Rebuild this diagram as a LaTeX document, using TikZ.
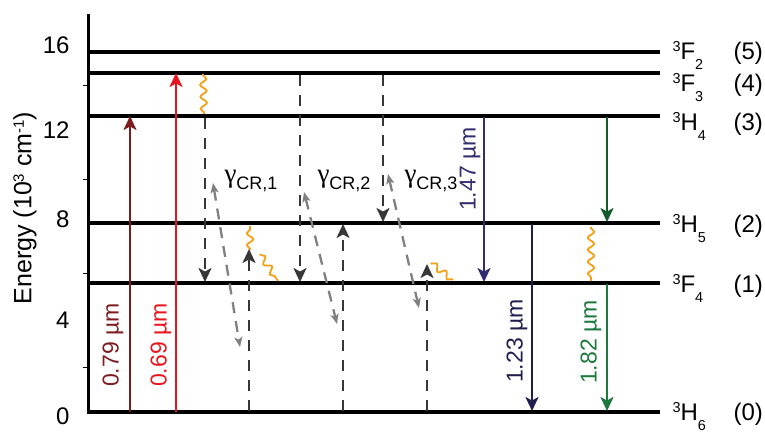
\documentclass[tikz,border=0pt]{standalone}
\usepackage{fontspec}
\usepackage{graphicx}
\setmainfont{Liberation Sans}
\newfontfamily\gfont{Liberation Serif}
\usetikzlibrary{arrows.meta,decorations.pathmorphing}
\definecolor{cDarkRed}{RGB}{125,28,30}
\definecolor{cRed}{RGB}{232,20,30}
\definecolor{cNavy}{RGB}{50,45,110}
\definecolor{cNavyD}{RGB}{32,30,78}
\definecolor{cGreenD}{RGB}{20,90,45}
\definecolor{cGreen}{RGB}{28,120,60}
\definecolor{cOrange}{RGB}{245,160,20}
\definecolor{cDash}{RGB}{55,55,55}
\definecolor{cGray}{RGB}{128,128,128}
\newcommand{\lsup}[1]{\raisebox{0.30em}{\scalebox{0.6}{#1}}}
\newcommand{\lsub}[1]{\raisebox{-0.42em}{\scalebox{0.6}{#1}}}
\newcommand{\gam}[1]{{\gfont\fontsize{27}{27}\selectfont γ}\raisebox{-7pt}{\fontsize{18}{18}\selectfont #1}}
\tikzset{
  levelline/.style={line width=3.4pt, line cap=butt},
  axisline/.style={line width=3pt},
  tickline/.style={line width=1pt},
  trans/.style={line width=2.2pt, -{Stealth[length=14pt,width=13pt,inset=3.5pt]}},
  dsh/.style={trans, draw=cDash, dash pattern=on 11pt off 9pt},
  crx/.style={line width=2.3pt, draw=cGray, dash pattern=on 11pt off 8pt,
    {Stealth[length=10pt,width=8pt,inset=2.5pt]}-{Stealth[length=10pt,width=8pt,inset=2.5pt]}},
  wavy/.style={draw=cOrange, line width=1.8pt, decorate,
    decoration={snake, amplitude=3.2pt, segment length=12pt, pre length=1pt, post length=1pt}},
  ticklab/.style={anchor=east, font=\fontsize{24}{24}\selectfont},
  statelab/.style={anchor=base west, font=\fontsize{24}{24}\selectfont},
  wlab/.style={rotate=90, font=\fontsize{23}{23}\selectfont},
  crlab/.style={anchor=base west},
}
\begin{document}
\begin{tikzpicture}[x=1pt,y=-1pt]
\useasboundingbox (0,0) rectangle (765,432);
% axis
\coordinate (axT) at (88,14);
\coordinate (axB) at (88,414);
\draw[axisline] (axT) -- (axB);
\foreach \yy in {85,179,273,367}{\draw[tickline] (83,\yy) -- (88,\yy);}
\node[ticklab] (t16) at (73,45) {16};
\node[ticklab] (t12) at (73,130) {12};
\node[ticklab] (t8) at (73,219) {8};
\node[ticklab] (t4) at (73,320) {4};
\node[ticklab] (t0) at (73,416) {0};
\node[rotate=90, font=\fontsize{25}{25}\selectfont] (ylab) at (25,208) {Energy (10\lsup{3} cm\lsup{-1})};
% levels
\coordinate (L0w) at (88,412); \coordinate (L0e) at (660,412);
\coordinate (L1w) at (88,283); \coordinate (L1e) at (660,283);
\coordinate (L2w) at (88,223); \coordinate (L2e) at (660,223);
\coordinate (L3w) at (88,116); \coordinate (L3e) at (660,116);
\coordinate (L4w) at (88,73);  \coordinate (L4e) at (660,73);
\coordinate (L5w) at (88,52);  \coordinate (L5e) at (660,52);
\foreach \i in {0,...,5}{\draw[levelline] (L\i w) -- (L\i e);}
% level labels
\node[statelab] (s5) at (669,59) {\lsup{3}F\lsub{2}};
\node[statelab] (s4) at (669,91) {\lsup{3}F\lsub{3}};
\node[statelab] (s3) at (669,130) {\lsup{3}H\lsub{4}};
\node[statelab] (s2) at (669,232) {\lsup{3}H\lsub{5}};
\node[statelab] (s1) at (669,292) {\lsup{3}F\lsub{4}};
\node[statelab] (s0) at (669,420) {\lsup{3}H\lsub{6}};
\node[statelab] (n5) at (730,59) {(5)};
\node[statelab] (n4) at (730,91) {(4)};
\node[statelab] (n3) at (730,130) {(3)};
\node[statelab] (n2) at (730,232) {(2)};
\node[statelab] (n1) at (730,292) {(1)};
\node[statelab] (n0) at (730,420) {(0)};
% absorption
\coordinate (a1s) at (130,412); \coordinate (a1e) at (130,116);
\coordinate (a2s) at (176,412); \coordinate (a2e) at (176,73);
\draw[trans, cDarkRed] (a1s) -- (a1e);
\draw[trans, cRed] (a2s) -- (a2e);
\node[wlab, text=cDarkRed] (l079) at (113,345) {0.79 µm};
\node[wlab, text=cRed] (l069) at (161,345) {0.69 µm};
% wavy relaxations
\coordinate (w1s) at (203,74);  \coordinate (w1e) at (204,114);
\coordinate (w2s) at (250,250); \coordinate (w2e) at (250,226);
\coordinate (w3s) at (260,254); \coordinate (w3e) at (278,281);
\coordinate (w4s) at (431,263); \coordinate (w4e) at (453,280);
\coordinate (w5s) at (591,227); \coordinate (w5e) at (591,281);
\draw[wavy] (w1s) -- (w1e);
\draw[wavy] (w2s) -- (w2e);
\draw[wavy] (w3s) -- (w3e);
\draw[wavy] (w4s) -- (w4e);
\draw[wavy] (w5s) -- (w5e);
% dashed down
\coordinate (d1s) at (205,118); \coordinate (d1e) at (205,282);
\coordinate (d2s) at (300,75);  \coordinate (d2e) at (300,282);
\coordinate (d3s) at (383,75);  \coordinate (d3e) at (383,222);
\draw[dsh] (d1s) -- (d1e);
\draw[dsh] (d2s) -- (d2e);
\draw[dsh] (d3s) -- (d3e);
% dashed up
\coordinate (u1s) at (249,411); \coordinate (u1e) at (249,249);
\coordinate (u2s) at (343,411); \coordinate (u2e) at (343,224);
\coordinate (u3s) at (427,411); \coordinate (u3e) at (427,264);
\draw[dsh] (u1s) -- (u1e);
\draw[dsh] (u2s) -- (u2e);
\draw[dsh] (u3s) -- (u3e);
% cross relaxation
\coordinate (c1a) at (213,183); \coordinate (c1b) at (240,347);
\coordinate (c2a) at (304,192); \coordinate (c2b) at (337,324);
\coordinate (c3a) at (388,174); \coordinate (c3b) at (419,308);
\draw[crx] (c1a) -- (c1b);
\draw[crx] (c2a) -- (c2b);
\draw[crx] (c3a) -- (c3b);
\node[crlab] (g1) at (221,182) {\gam{CR,1}};
\node[crlab] (g2) at (314,182) {\gam{CR,2}};
\node[crlab] (g3) at (401,182) {\gam{CR,3}};
% emissions
\coordinate (e1s) at (484,117); \coordinate (e1e) at (484,282);
\coordinate (e2s) at (532,224); \coordinate (e2e) at (532,411);
\coordinate (e3s) at (607,117); \coordinate (e3e) at (607,222);
\coordinate (e4s) at (607,284); \coordinate (e4e) at (607,411);
\draw[trans, cNavy] (e1s) -- (e1e);
\draw[trans, cNavyD] (e2s) -- (e2e);
\draw[trans, cGreenD] (e3s) -- (e3e);
\draw[trans, cGreen] (e4s) -- (e4e);
\node[wlab, text=cNavy] (l147) at (470,169) {1.47 µm};
\node[wlab, text=cNavyD] (l123) at (517,341) {1.23 µm};
\node[wlab, text=cGreen] (l182) at (591,342) {1.82 µm};
\end{tikzpicture}
\end{document}
